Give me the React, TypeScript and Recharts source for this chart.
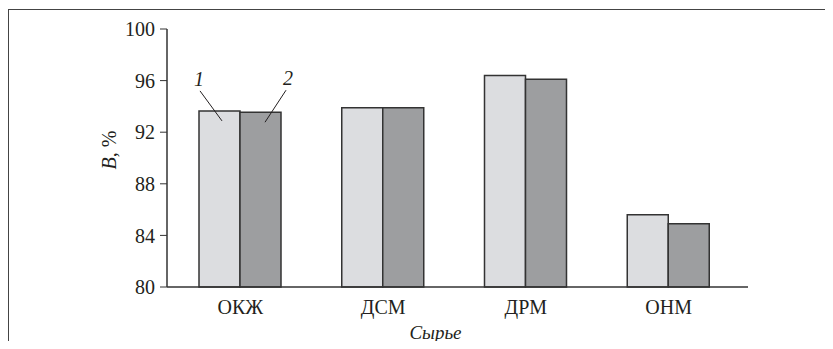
import { BarChart, Bar, XAxis, YAxis, LabelList, Label } from 'recharts';

const categories = ['ОКЖ', 'ДСМ', 'ДРМ', 'ОНМ'];
const series1 = [93.65, 93.9, 96.4, 85.6];
const series2 = [93.55, 93.9, 96.1, 84.9];
const yTicks = [80, 84, 88, 92, 96, 100];
const seriesNames = ['1', '2'];

const data = categories.map((name, i) => ({ name, s1: series1[i], s2: series2[i] }));

const FONT = "'Liberation Serif', 'Times New Roman', Times, serif";
const INK = '#231f20';

// leader-line callout drawn on the first bar of a series
const makeCallout = (label: string, side: 'left' | 'right') => (props: any) => {
  const { x, y, width, index } = props;
  if (index !== 0) return null;
  const bx = Number(x);
  const by = Number(y);
  const w = Number(width);
  const textStyle = { fontFamily: FONT, fontStyle: 'italic', fontSize: 20 };
  if (side === 'left') {
    return (
      <g>
        <line x1={bx + 1} y1={by - 20} x2={bx + 23} y2={by + 10} stroke={INK} strokeWidth={1} />
        <text x={bx} y={by - 25} textAnchor="middle" style={textStyle} fill={INK}>
          {label}
        </text>
      </g>
    );
  }
  return (
    <g>
      <line x1={bx + w + 5} y1={by - 22} x2={bx + w - 16} y2={by + 10} stroke={INK} strokeWidth={1} />
      <text x={bx + w + 7} y={by - 27} textAnchor="middle" style={textStyle} fill={INK}>
        {label}
      </text>
    </g>
  );
};

const YTitle = (props: any) => {
  const vb = props.viewBox || {};
  const cx = vb.x + 116;
  const cy = vb.y + vb.height / 2 - 8;
  return (
    <text
      x={cx}
      y={cy}
      transform={`rotate(-90, ${cx}, ${cy})`}
      textAnchor="middle"
      style={{ fontFamily: FONT, fontSize: 20 }}
      fill={INK}
    >
      <tspan style={{ fontStyle: 'italic' }}>B</tspan>
      <tspan>, %</tspan>
    </text>
  );
};

const XTitle = (props: any) => {
  const vb = props.viewBox || {};
  return (
    <text
      x={vb.x + vb.width / 2 - 22}
      y={vb.y + 52}
      textAnchor="middle"
      style={{ fontFamily: FONT, fontStyle: 'italic', fontSize: 19 }}
      fill={INK}
    >
      Сырье
    </text>
  );
};

const tickStyle = { fontFamily: FONT, fontSize: 20, fill: INK };

const App = () => {
  return (
    <div style={{ position: 'relative', width: 833, height: 349, margin: -8, background: '#fff', overflow: 'hidden', fontFamily: FONT }}>
      <div
        style={{
          position: 'absolute',
          left: 8,
          top: 9,
          width: 900,
          height: 400,
          borderLeft: '1.5px solid #444',
          borderTop: '1.5px solid #444',
        }}
      />
      <BarChart
        width={833}
        height={349}
        data={data}
        margin={{ top: 29, right: 85, bottom: 0, left: 0 }}
        barGap={0}
        barSize={41}
        style={{ position: 'absolute', left: 0, top: 0, fontFamily: FONT }}
      >
        <XAxis
          dataKey="name"
          height={62}
          padding={{ left: 2, right: 8 }}
          tickLine={false}
          tickSize={6}
          tickMargin={7}
          axisLine={{ stroke: '#333', strokeWidth: 1.5 }}
          tick={{ ...tickStyle, style: { fontFamily: FONT } }}
        >
          <Label content={<XTitle />} />
        </XAxis>
        <XAxis xAxisId="top" dataKey="name" orientation="top" height={0} tick={false} tickLine={false} axisLine={{ stroke: '#333', strokeWidth: 1.5 }} />
        <YAxis
          domain={[80, 100]}
          ticks={yTicks}
          width={167}
          tickSize={7}
          tickMargin={5}
          interval={0}
          axisLine={{ stroke: '#333', strokeWidth: 1.5 }}
          tickLine={{ stroke: '#333', strokeWidth: 1 }}
          tick={{ ...tickStyle, style: { fontFamily: FONT } }}
        >
          <Label content={<YTitle />} />
        </YAxis>
        <YAxis yAxisId="right" orientation="right" width={0} domain={[80, 100]} tick={false} tickLine={false} axisLine={{ stroke: '#333', strokeWidth: 1.5 }} />
        <Bar dataKey="s1" name={seriesNames[0]} fill="#dcdde0" stroke="#333" strokeWidth={1.5} isAnimationActive={false}>
          <LabelList dataKey="s1" content={makeCallout(seriesNames[0], 'left')} />
        </Bar>
        <Bar dataKey="s2" name={seriesNames[1]} fill="#9d9ea0" stroke="#333" strokeWidth={1.5} isAnimationActive={false}>
          <LabelList dataKey="s2" content={makeCallout(seriesNames[1], 'right')} />
        </Bar>
      </BarChart>
    </div>
  );
};

export default App;
